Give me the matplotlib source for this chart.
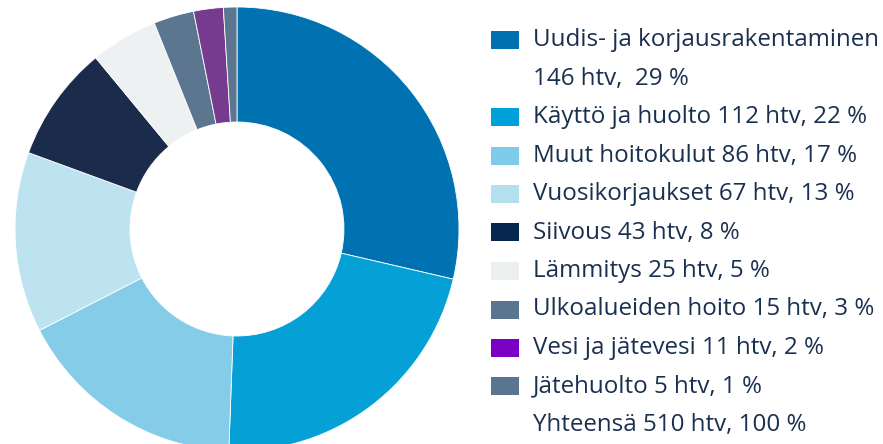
import matplotlib.pyplot as plt
from matplotlib.patches import Rectangle

# === Data ===
labels = ['Uudis- ja korjausrakentaminen', 'Käyttö ja huolto', 'Muut hoitokulut',
          'Vuosikorjaukset', 'Siivous', 'Lämmitys', 'Ulkoalueiden hoito',
          'Vesi ja jätevesi', 'Jätehuolto']
htv = [146, 112, 86, 67, 43, 25, 15, 11, 5]
pct = [29, 22, 17, 13, 8, 5, 3, 2, 1]
total_htv = 510

pie_colors = ['#0072b1', '#05a0d6', '#85cce9', '#bde3f1', '#1b2b4b',
              '#eef1f1', '#5c7690', '#763a8e', '#5c7690']
legend_colors = ['#0070b0', '#00a0d8', '#7fcbea', '#b3e0ef', '#062850',
                 '#eceff0', '#5a7590', '#7a00c4', '#5a7590']
text_color = '#1a3050'

plt.rcParams['font.family'] = ['Open Sans', 'DejaVu Sans']

W, H = 883, 444
fig = plt.figure(figsize=(W / 100, H / 100), dpi=100)
ax = fig.add_axes([0, 0, 1, 1])

# === Donut (pixel coords, y up) ===
ax.pie(htv, colors=pie_colors, startangle=90, counterclock=False,
       center=(237, H - 229), radius=222, frame=True,
       wedgeprops=dict(width=115, edgecolor='white', linewidth=0.6))
ax.set_xlim(0, W)
ax.set_ylim(0, H)
ax.set_aspect('equal')
ax.axis('off')

# === Legend ===
rows = [(labels[0], legend_colors[0]), ('%d htv,  %d %%' % (htv[0], pct[0]), None)]
for lab, h, p, c in zip(labels[1:], htv[1:], pct[1:], legend_colors[1:]):
    rows.append(('%s %d htv, %d %%' % (lab, h, p), c))
rows.append(('Yhteensä %d htv, 100 %%' % total_htv, None))

y0, dy = 40, 38.5
for i, (txt, c) in enumerate(rows):
    y = H - (y0 + i * dy)
    if c is not None:
        ax.add_patch(Rectangle((491, y - 9), 28, 18, facecolor=c, edgecolor='none'))
    ax.text(533, y, txt, fontsize=17.4, color=text_color, va='center', ha='left')

fig.savefig('out.png', dpi=100)
